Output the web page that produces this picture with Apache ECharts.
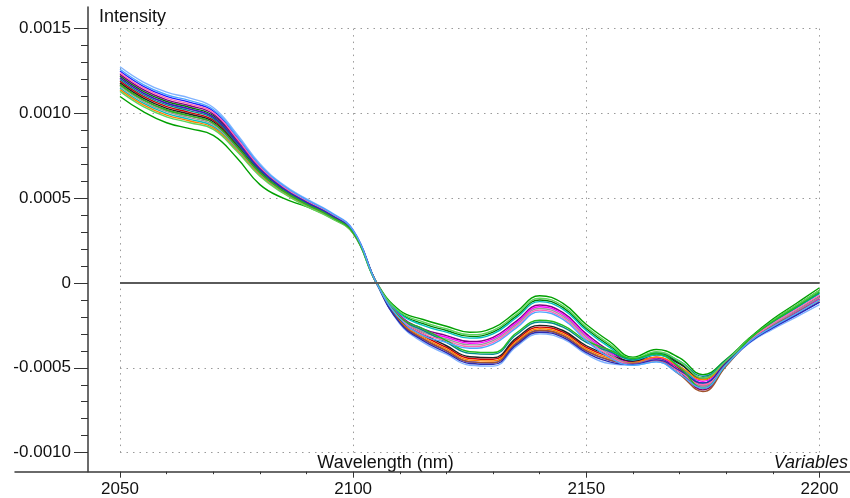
<!DOCTYPE html>
<html>
<head>
<meta charset="utf-8">
<script src="https://cdn.jsdelivr.net/npm/echarts@6/dist/echarts.min.js"></script>
<style>html,body{margin:0;padding:0;background:#fff}#c{width:850px;height:498px}</style>
</head>
<body>
<div id="c"></div>
<script>
// Wavelength (nm)
const wavelengths = [2050,2055,2060,2065,2070,2075,2080,2085,2090,2095,2100,2105,2110,2115,2120,2125,2130,2135,2140,2145,2150,2155,2160,2165,2170,2175,2180,2185,2190,2195,2200];
// Intensity values in units of 1e-4
const UNIT = 1e-4;
const s01 = [12.75,11.85,11.25,10.9,10.35,8.8,7.03,5.8,4.96,4.21,3.13,0,-2.4,-3.5,-4.2,-4.85,-4.9,-3.75,-3.0,-3.3,-4.2,-4.75,-4.85,-4.65,-5.38,-6.2,-4.82,-3.54,-2.72,-2.01,-1.28];
const s02 = [12.5,11.6,11.0,10.65,10.14,8.62,6.9,5.71,4.88,4.15,3.09,0,-2.3,-3.3,-4.0,-4.65,-4.7,-3.55,-2.8,-3.1,-4.0,-4.55,-4.75,-4.51,-5.22,-6.1,-4.78,-3.49,-2.63,-1.89,-1.13];
const s03 = [11.0,10.1,9.45,9.1,8.7,7.4,5.8,5.0,4.5,3.9,2.95,0.05,-1.62,-2.15,-2.55,-2.9,-2.65,-1.7,-0.75,-1.2,-2.45,-3.45,-4.37,-3.92,-4.42,-5.4,-4.5,-3.23,-2.12,-1.21,-0.28];
const s04 = [12.2,11.3,10.7,10.35,9.87,8.41,6.75,5.61,4.79,4.08,3.05,0,-1.75,-2.4,-2.8,-3.15,-2.9,-1.95,-1.0,-1.45,-2.7,-3.7,-4.5,-4.13,-4.73,-5.7,-4.62,-3.28,-2.21,-1.33,-0.43];
const s05 = [11.9,11.0,10.4,10.05,9.6,8.2,6.6,5.5,4.7,4.0,3.0,0,-2.2,-3.1,-3.8,-4.45,-4.5,-3.35,-2.6,-2.9,-3.8,-4.35,-4.65,-4.37,-5.06,-6.0,-4.74,-3.4,-2.45,-1.65,-0.83];
const s06 = [12.3,11.4,10.8,10.45,9.96,8.48,6.8,5.64,4.82,4.1,3.06,0,-1.9,-2.7,-3.1,-3.45,-3.2,-2.25,-1.3,-1.75,-3.0,-4.0,-4.65,-4.43,-5.24,-6.3,-4.86,-3.43,-2.51,-1.73,-0.93];
const s07 = [12.1,11.2,10.6,10.25,9.78,8.34,6.7,5.57,4.76,4.05,3.03,0,-1.95,-2.8,-3.2,-3.55,-3.3,-2.35,-1.4,-1.85,-3.1,-4.1,-4.7,-4.39,-4.99,-5.8,-4.66,-3.43,-2.51,-1.73,-0.93];
const s08 = [11.8,10.9,10.3,9.95,9.51,8.13,6.55,5.47,4.67,3.98,2.99,0,-2.15,-3.0,-3.7,-4.35,-4.4,-3.25,-2.5,-2.8,-3.7,-4.25,-4.6,-4.23,-4.77,-5.6,-4.58,-3.39,-2.42,-1.61,-0.78];
const s09 = [11.5,10.6,10.0,9.65,9.24,7.92,6.4,5.36,4.58,3.9,2.94,0,-1.8,-2.5,-2.9,-3.25,-3.0,-2.05,-1.1,-1.55,-2.8,-3.8,-4.55,-4.23,-4.9,-5.9,-4.7,-3.34,-2.33,-1.49,-0.63];
const s10 = [11.4,10.5,9.9,9.55,9.15,7.85,6.35,5.33,4.55,3.88,2.93,0,-2.25,-3.2,-3.9,-4.55,-4.6,-3.45,-2.7,-3.0,-3.9,-4.45,-4.7,-4.37,-4.93,-5.7,-4.62,-3.46,-2.57,-1.81,-1.03];
const s11 = [11.6,10.7,10.1,9.75,9.33,7.99,6.45,5.4,4.61,3.93,2.96,0,-2.0,-2.9,-3.3,-3.65,-3.4,-2.45,-1.5,-1.95,-3.2,-4.2,-4.75,-4.51,-5.22,-6.1,-4.78,-3.4,-2.45,-1.65,-0.83];
const s12 = [12.0,11.1,10.5,10.15,9.69,8.27,6.65,5.54,4.73,4.03,3.02,0,-2.05,-2.8,-3.5,-4.15,-4.2,-3.05,-2.3,-2.6,-3.5,-4.05,-4.5,-4.09,-4.61,-5.5,-4.54,-3.33,-2.3,-1.45,-0.58];
const s13 = [11.3,10.4,9.8,9.45,9.06,7.78,6.3,5.29,4.52,3.85,2.91,0,-1.7,-2.3,-2.7,-3.05,-2.8,-1.85,-0.9,-1.35,-2.6,-3.6,-4.45,-4.05,-4.62,-5.6,-4.58,-3.28,-2.21,-1.33,-0.43];
const s14 = [11.7,10.8,10.2,9.85,9.42,8.06,6.5,5.43,4.64,3.95,2.97,0,-2.3,-3.3,-4.0,-4.65,-4.7,-3.55,-2.8,-3.1,-4.0,-4.55,-4.75,-4.57,-5.4,-6.4,-4.9,-3.45,-2.54,-1.77,-0.98];
const s15 = [12.4,11.5,10.9,10.55,10.05,8.55,6.85,5.68,4.85,4.13,3.08,0,-2.05,-3.0,-3.4,-3.75,-3.5,-2.55,-1.6,-2.05,-3.3,-4.3,-4.8,-4.55,-5.21,-6.0,-4.74,-3.37,-2.39,-1.57,-0.73];
const s16 = [12.1,11.2,10.6,10.25,9.78,8.34,6.7,5.57,4.76,4.05,3.03,0,-2.35,-3.4,-4.1,-4.75,-4.8,-3.65,-2.9,-3.2,-4.1,-4.65,-4.8,-4.53,-5.15,-5.9,-4.7,-3.49,-2.63,-1.89,-1.13];
const s17 = [11.7,10.8,10.2,9.85,9.42,8.06,6.5,5.43,4.64,3.95,2.97,0,-2.0,-2.7,-3.4,-4.05,-4.1,-2.95,-2.2,-2.5,-3.4,-3.95,-4.45,-4.17,-4.98,-6.2,-4.82,-3.31,-2.27,-1.41,-0.53];
const s18 = [12.6,11.7,11.1,10.75,10.23,8.69,6.95,5.75,4.91,4.18,3.1,0,-2.1,-3.1,-3.5,-3.85,-3.6,-2.65,-1.7,-2.15,-3.4,-4.4,-4.85,-4.65,-5.38,-6.2,-4.82,-3.46,-2.57,-1.81,-0.99];
const seriesValues = [s01,s02,s03,s04,s05,s06,s07,s08,s09,s10,s11,s12,s13,s14,s15,s16,s17,s18];
const seriesColors = ['#7fb2ff','#1f1fff','#00a000','#008000','#d00000','#800080','#ff00ff','#222222','#00c0c0','#ff8000','#999999','#008b8b','#5cd65c','#a0522d','#ff69b4','#2b2bb0','#22bb22','#4da6ff'];
const xTicks = [2050, 2100, 2150, 2200];
const yTickLabels = ['-0.0010','-0.0005','0','0.0005','0.0010','0.0015'];

const FONT = '"Liberation Sans", Arial, sans-serif';
const chart = echarts.init(document.getElementById('c'), null, {renderer:'canvas'});

const dotted = {color:'#9a9a9a', width:1, type:[1.5,5]};

const series = seriesValues.map((vals, k) => ({
  type:'line', xAxisIndex:0, yAxisIndex:0, smooth:0.45, showSymbol:false, silent:true,
  data: vals.map((v,i) => [wavelengths[i], v*UNIT]),
  lineStyle:{color:seriesColors[k], width:1.4}, itemStyle:{color:seriesColors[k]},
  z: 3
}));
series.unshift({
  type:'line', xAxisIndex:0, yAxisIndex:0, data:[], silent:true,
  markLine:{symbol:'none', silent:true, label:{show:false},
    lineStyle:{color:'#5a5a5a', width:2, type:'solid'},
    data:[{yAxis:0}]}, z:2
});

chart.setOption({
  animation:false,
  backgroundColor:'#fff',
  grid:[
    {left:120, right:30.5, top:28.6, bottom:45.4},
    {left:15, right:0, top:7, bottom:26.3},
    {left:88, right:0, top:7, bottom:26.3}
  ],
  xAxis:[
    {type:'value', gridIndex:0, min:xTicks[0], max:xTicks[xTicks.length-1], interval:50, offset:19.1,
     axisLine:{show:false, onZero:false},
     axisTick:{show:true, length:6, lineStyle:{color:'#333', width:1}},
     minorTick:{show:true, splitNumber:5, length:2.5, lineStyle:{color:'#333', width:1}},
     axisLabel:{color:'#111', fontSize:17, fontFamily:FONT, margin:9, formatter:(v)=>String(Math.round(v))},
     splitLine:{show:true, lineStyle:dotted}},
    {type:'value', gridIndex:1, min:0, max:1,
     axisLine:{show:true, onZero:false, lineStyle:{color:'#3a3a3a', width:1.5}},
     axisTick:{show:false}, axisLabel:{show:false}, splitLine:{show:false}},
    {type:'value', gridIndex:2, min:0, max:1, show:false}
  ],
  yAxis:[
    {type:'value', gridIndex:0, min:-0.0010, max:0.0015, interval:0.0005, offset:32,
     axisLine:{show:false, onZero:false},
     axisTick:{show:true, length:14, lineStyle:{color:'#333', width:1}},
     minorTick:{show:true, splitNumber:5, length:7, lineStyle:{color:'#333', width:1}},
     axisLabel:{color:'#111', fontSize:17, fontFamily:FONT, margin:17,
       formatter:(v)=>{const idx=Math.round((v+0.0010)/0.0005); return yTickLabels[idx] ?? '';}},
     splitLine:{show:true, lineStyle:dotted}},
    {type:'value', gridIndex:1, min:0, max:1, show:false},
    {type:'value', gridIndex:2, min:0, max:1,
     axisLine:{show:true, onZero:false, lineStyle:{color:'#3a3a3a', width:1.5}},
     axisTick:{show:false}, axisLabel:{show:false}, splitLine:{show:false}}
  ],
  graphic:[
    {type:'text', left:99, top:8, style:{text:'Intensity', font:'18px '+FONT, fill:'#111'}},
    {type:'text', x:385.5, y:463, style:{text:'Wavelength (nm)', font:'18px '+FONT, fill:'#111', textAlign:'center', textVerticalAlign:'middle'}},
    {type:'text', x:848, y:463, style:{text:'Variables', font:'italic 18px '+FONT, fill:'#111', textAlign:'right', textVerticalAlign:'middle'}}
  ],
  series: series
});
</script>
</body>
</html>
